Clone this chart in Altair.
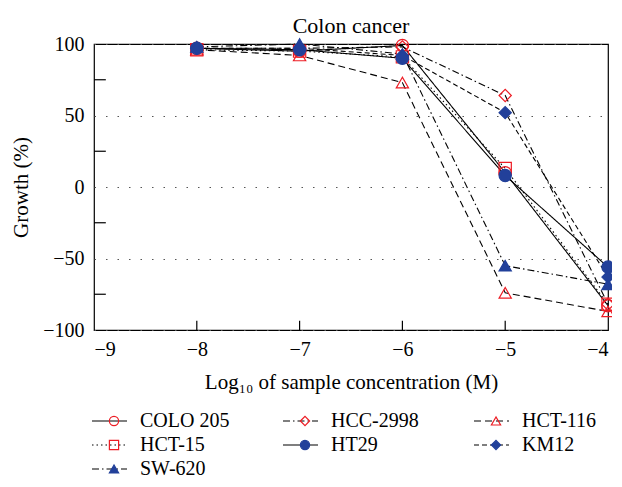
import altair as alt
import pandas as pd

FONT = "Liberation Serif"

x_vals = [-8, -7, -6, -5, -4]
cells = ["COLO 205", "HCC-2998", "HCT-116", "HCT-15", "HT29", "KM12", "SW-620"]
colo205 = [97, 95, 99, 10, -83]
hcc2998 = [97, 97, 98, 64, -82]
hct116 = [96, 92, 73, -74, -87]
hct15 = [96, 95, 91, 13, -82]
ht29 = [97, 96, 90, 8, -56]
km12 = [97, 97, 92, 52, -63]
sw620 = [98, 100, 93, -55, -68]
series = [colo205, hcc2998, hct116, hct15, ht29, km12, sw620]

x_ticks = [-9, -8, -7, -6, -5, -4]
x_inner_ticks = [-8, -7, -6, -5]
y_ticks = [-100, -50, 0, 50, 100]
y_minor_ticks = [75, 25, -25, -75]

RED = "#ed1c24"
BLUE = "#22409a"
shapes = ["circle", "diamond", "triangle-up", "square", "circle", "diamond", "triangle-up"]
strokes = [RED, RED, RED, RED, BLUE, BLUE, BLUE]
fills = ["transparent", "transparent", "transparent", "transparent", BLUE, BLUE, BLUE]
dashes = [[1, 0], [7, 3, 1.5, 3], [7, 4], [1.5, 3], [1, 0], [5, 3], [7, 3, 1.5, 3]]

rows = []
for c, ys in zip(cells, series):
    for xv, yv in zip(x_vals, ys):
        rows.append({"cell": c, "cell_line": c, "x": xv, "y": yv})
df = pd.DataFrame(rows)

xt_df = pd.DataFrame({"x": x_inner_ticks, "y": [-100] * 4, "y2": [-93.5] * 4})
yt_df = pd.DataFrame({"y": y_minor_ticks, "x": [-9] * 4, "x2": [-8.885] * 4})

xscale = alt.Scale(domain=[-9, -4], nice=False, zero=False)
yscale = alt.Scale(domain=[-100, 100], nice=False, zero=False)

x_enc = alt.X("x:Q", scale=xscale, axis=alt.Axis(
    values=x_ticks, format="d", title="Log₁₀ of sample concentration (M)", ticks=False,
    domain=False, grid=False, labelPadding=9, titlePadding=12))
y_enc = alt.Y("y:Q", scale=yscale, axis=alt.Axis(
    values=y_ticks, format="d", title="Growth (%)", ticks=False, domain=False, grid=True,
    gridDash=[1.5, 10], gridColor="#555555", gridWidth=1.2,
    labelPadding=10, titlePadding=11))

LX = -3
LY = 367
LO_A = 12
OFF_A = 37
OFF_B = 11
PITCH = 193

legA = alt.Legend(title=None, orient="none", legendX=LX, legendY=LY, columns=3,
                  direction="horizontal",
                  symbolType="stroke", symbolSize=1225, symbolStrokeWidth=1.1,
                  symbolStrokeColor="black", labelOffset=LO_A, columnPadding=52,
                  rowPadding=4, gridAlign="all", padding=0, clipHeight=20)
legB = alt.Legend(title=None, orient="none", legendX=LX + (OFF_A - OFF_B) / 2, legendY=LY,
                  columns=3, direction="horizontal", symbolSize=85, symbolStrokeWidth=1.2,
                  labelExpr="''", labelOffset=0, columnPadding=PITCH - OFF_B - 11, rowPadding=4,
                  gridAlign="all", padding=0, clipHeight=20)

line = alt.Chart(df).mark_line(color="black", strokeWidth=1.1).encode(
    x=x_enc, y=y_enc,
    strokeDash=alt.StrokeDash("cell_line:N", scale=alt.Scale(domain=cells, range=dashes), legend=legA),
)

points = alt.Chart(df).mark_point(size=150, opacity=1, strokeWidth=1.2, filled=True).encode(
    x=alt.X("x:Q", scale=xscale), y=alt.Y("y:Q", scale=yscale),
    shape=alt.Shape("cell:N", scale=alt.Scale(range=shapes), legend=legB),
    stroke=alt.Stroke("cell:N", scale=alt.Scale(range=strokes), legend=legB),
    fill=alt.Fill("cell:N", scale=alt.Scale(range=fills), legend=legB),
)

xt = alt.Chart(xt_df).mark_rule(color="black", strokeWidth=1.2).encode(
    x=alt.X("x:Q", scale=xscale), y=alt.Y("y:Q", scale=yscale), y2="y2")
yt = alt.Chart(yt_df).mark_rule(color="black", strokeWidth=1.2).encode(
    y=alt.Y("y:Q", scale=yscale), x=alt.X("x:Q", scale=xscale), x2="x2")

chart = alt.layer(xt, yt, line, points).properties(
    width=514, height=286,
    title=alt.TitleParams("Colon cancer", font=FONT, fontSize=22, fontWeight="normal",
                          color="black", offset=0, dy=4),
    autosize=alt.AutoSizeParams(type="none"),
    padding={"left": 86, "top": 36, "right": 4, "bottom": 149},
).configure_view(stroke="black", strokeWidth=1.2).configure_axis(
    labelFont=FONT, labelFontSize=20, labelColor="black",
    titleFont=FONT, titleFontSize=21, titleColor="black", titleFontWeight="normal",
).configure_legend(labelFont=FONT, labelFontSize=20, labelColor="black")

chart.save("out.html", embed_options={"renderer": "svg", "actions": False})
